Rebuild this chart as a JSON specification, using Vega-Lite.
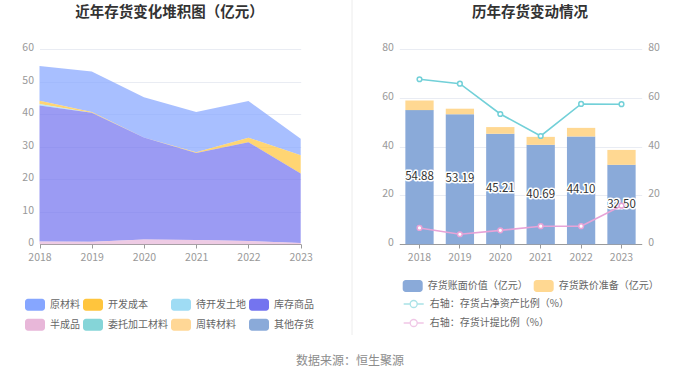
{
  "$schema": "https://vega.github.io/schema/vega-lite/v6.json",
  "width": 700,
  "height": 378,
  "autosize": "none",
  "padding": 0,
  "background": "white",
  "config": {
    "font": "Noto Sans CJK SC",
    "view": {"stroke": null},
    "axis": {"labelFont": "Noto Sans CJK SC", "labelColor": "#999999", "labelFontSize": 10.5, "titleFont": "Noto Sans CJK SC"},
    "legend": {"labelFont": "Noto Sans CJK SC", "labelColor": "#666666", "labelFontSize": 10}
  },
  "title": {"text": "数据来源：恒生聚源", "orient": "bottom", "anchor": "middle", "frame": "group", "offset": -22, "fontSize": 12, "fontWeight": "normal", "color": "#8c8c8c"},
  "datasets": {
    "areas": [
      {"year": "2018", "type": "原材料", "value": 10.68},
      {"year": "2019", "type": "原材料", "value": 12.49},
      {"year": "2020", "type": "原材料", "value": 12.31},
      {"year": "2021", "type": "原材料", "value": 12.39},
      {"year": "2022", "type": "原材料", "value": 11.30},
      {"year": "2023", "type": "原材料", "value": 5.10},
      {"year": "2018", "type": "开发成本", "value": 1.0},
      {"year": "2019", "type": "开发成本", "value": 0.2},
      {"year": "2020", "type": "开发成本", "value": 0},
      {"year": "2021", "type": "开发成本", "value": 0.2},
      {"year": "2022", "type": "开发成本", "value": 1.4},
      {"year": "2023", "type": "开发成本", "value": 5.6},
      {"year": "2018", "type": "待开发土地", "value": 0.5},
      {"year": "2019", "type": "待开发土地", "value": 0},
      {"year": "2020", "type": "待开发土地", "value": 0},
      {"year": "2021", "type": "待开发土地", "value": 0},
      {"year": "2022", "type": "待开发土地", "value": 0},
      {"year": "2023", "type": "待开发土地", "value": 0},
      {"year": "2018", "type": "库存商品", "value": 41.8},
      {"year": "2019", "type": "库存商品", "value": 39.7},
      {"year": "2020", "type": "库存商品", "value": 31.4},
      {"year": "2021", "type": "库存商品", "value": 26.8},
      {"year": "2022", "type": "库存商品", "value": 30.4},
      {"year": "2023", "type": "库存商品", "value": 21.4},
      {"year": "2018", "type": "半成品", "value": 0.9},
      {"year": "2019", "type": "半成品", "value": 0.8},
      {"year": "2020", "type": "半成品", "value": 1.5},
      {"year": "2021", "type": "半成品", "value": 1.3},
      {"year": "2022", "type": "半成品", "value": 1.0},
      {"year": "2023", "type": "半成品", "value": 0.4}
    ],
    "bars": [
      {"year": "2018", "series": "存货账面价值（亿元）", "value": 54.88},
      {"year": "2019", "series": "存货账面价值（亿元）", "value": 53.19},
      {"year": "2020", "series": "存货账面价值（亿元）", "value": 45.21},
      {"year": "2021", "series": "存货账面价值（亿元）", "value": 40.69},
      {"year": "2022", "series": "存货账面价值（亿元）", "value": 44.10},
      {"year": "2023", "series": "存货账面价值（亿元）", "value": 32.50},
      {"year": "2018", "series": "存货跌价准备（亿元）", "value": 3.94},
      {"year": "2019", "series": "存货跌价准备（亿元）", "value": 2.27},
      {"year": "2020", "series": "存货跌价准备（亿元）", "value": 2.73},
      {"year": "2021", "series": "存货跌价准备（亿元）", "value": 3.25},
      {"year": "2022", "series": "存货跌价准备（亿元）", "value": 3.52},
      {"year": "2023", "series": "存货跌价准备（亿元）", "value": 6.10}
    ],
    "lines": [
      {"year": "2018", "series": "右轴：存货占净资产比例（%）", "value": 67.5},
      {"year": "2019", "series": "右轴：存货占净资产比例（%）", "value": 65.7},
      {"year": "2020", "series": "右轴：存货占净资产比例（%）", "value": 53.3},
      {"year": "2021", "series": "右轴：存货占净资产比例（%）", "value": 44.3},
      {"year": "2022", "series": "右轴：存货占净资产比例（%）", "value": 57.4},
      {"year": "2023", "series": "右轴：存货占净资产比例（%）", "value": 57.3},
      {"year": "2018", "series": "右轴：存货计提比例（%）", "value": 6.7},
      {"year": "2019", "series": "右轴：存货计提比例（%）", "value": 4.1},
      {"year": "2020", "series": "右轴：存货计提比例（%）", "value": 5.7},
      {"year": "2021", "series": "右轴：存货计提比例（%）", "value": 7.4},
      {"year": "2022", "series": "右轴：存货计提比例（%）", "value": 7.4},
      {"year": "2023", "series": "右轴：存货计提比例（%）", "value": 15.8}
    ]
  },
  "layer": [
    {
      "data": {"name": "areas"},
      "transform": [{"window": [{"op": "row_number", "as": "rank"}], "groupby": ["year"]}],
      "mark": {"type": "area", "opacity": 0.72, "interpolate": "linear"},
      "encoding": {
        "x": {
          "field": "year", "type": "ordinal",
          "scale": {"type": "point", "range": [39.5, 300.7], "padding": 0},
          "axis": {"orient": "bottom", "offset": -134, "labelAngle": 0, "tickSize": 4, "labelPadding": 4, "domainColor": "#9a9a9a", "tickColor": "#9a9a9a", "grid": false,
            "title": "近年存货变化堆积图（亿元）", "titleX": 169, "titleY": -232, "titleAlign": "center", "titleBaseline": "middle", "titleFontSize": 14.5, "titleFontWeight": "bold", "titleColor": "#333333"}
        },
        "y": {
          "field": "value", "type": "quantitative", "stack": "zero",
          "scale": {"domain": [0, 60], "range": [244.3, 49.3], "nice": false},
          "axis": {"orient": "left", "offset": -39.5, "values": [0, 10, 20, 30, 40, 50, 60], "title": null, "domain": false, "ticks": false, "labelPadding": 6, "labelOffset": -1.5, "grid": true, "gridColor": "#e9ecf3"}
        },
        "order": {"field": "rank", "type": "quantitative", "sort": "descending"},
        "color": {
          "field": "type", "type": "nominal",
          "scale": {"domain": ["原材料", "开发成本", "待开发土地", "库存商品", "半成品", "委托加工材料", "周转材料", "其他存货"],
                    "range": ["#86a6ff", "#ffc53d", "#9fdcf4", "#7474ef", "#e8b7d9", "#85d5d8", "#ffd796", "#8aaad9"]},
          "legend": {"orient": "none", "legendX": 25, "legendY": 294.7, "direction": "horizontal", "columns": 4, "title": null,
                     "symbolType": "M-0.7,-0.6H0.7A0.3,0.3,0,0,1,1,-0.3V0.3A0.3,0.3,0,0,1,0.7,0.6H-0.7A0.3,0.3,0,0,1,-1,0.3V-0.3A0.3,0.3,0,0,1,-0.7,-0.6Z",
                     "symbolSize": 400, "symbolStrokeWidth": 0, "symbolOpacity": 1, "columnPadding": 3, "rowPadding": 4, "labelOffset": 5}
        }
      }
    },
    {
      "data": {"name": "bars"},
      "transform": [{"window": [{"op": "row_number", "as": "rank"}], "groupby": ["year"]}],
      "mark": {"type": "bar"},
      "encoding": {
        "x": {
          "field": "year", "type": "ordinal",
          "scale": {"type": "band", "range": [399.3, 641.7], "paddingInner": 0.3, "paddingOuter": 0.15},
          "axis": {"orient": "bottom", "offset": -134, "labelAngle": 0, "tickSize": 4, "labelPadding": 4, "domainColor": "#9a9a9a", "tickColor": "#9a9a9a", "grid": false,
            "title": "历年存货变动情况", "titleX": 529.5, "titleY": -232, "titleAlign": "center", "titleBaseline": "middle", "titleFontSize": 14.5, "titleFontWeight": "bold", "titleColor": "#333333"}
        },
        "y": {
          "field": "value", "type": "quantitative", "stack": "zero",
          "scale": {"domain": [0, 80], "range": [244.3, 48.7], "nice": false},
          "axis": {"orient": "left", "offset": -399.3, "values": [0, 20, 40, 60, 80], "title": null, "domain": false, "ticks": false, "labelPadding": 6, "labelOffset": -1.5, "grid": true, "gridColor": "#e9ecf3"}
        },
        "order": {"field": "rank", "type": "quantitative", "sort": "ascending"},
        "color": {
          "field": "series", "type": "nominal",
          "scale": {"domain": ["存货账面价值（亿元）", "存货跌价准备（亿元）"], "range": ["#8aaad9", "#ffd892"]},
          "legend": {"orient": "none", "legendX": 402.7, "legendY": 276, "direction": "horizontal", "columns": 2, "title": null,
                     "symbolType": "M-0.7,-0.6H0.7A0.3,0.3,0,0,1,1,-0.3V0.3A0.3,0.3,0,0,1,0.7,0.6H-0.7A0.3,0.3,0,0,1,-1,0.3V-0.3A0.3,0.3,0,0,1,-0.7,-0.6Z",
                     "symbolSize": 400, "symbolStrokeWidth": 0, "symbolOpacity": 1, "columnPadding": 6, "labelOffset": 5}
        }
      }
    },
    {
      "data": {"name": "bars"},
      "transform": [{"filter": "datum.series === '存货账面价值（亿元）'"}],
      "encoding": {
        "x": {"field": "year", "type": "ordinal", "scale": {"type": "band", "range": [399.3, 641.7], "paddingInner": 0.3, "paddingOuter": 0.15}, "axis": null},
        "y": {"field": "value", "type": "quantitative", "scale": {"domain": [0, 80], "range": [244.3, 146.5], "nice": false}, "axis": null},
        "text": {"field": "value", "type": "quantitative", "format": ".2f"}
      },
      "layer": [
        {"mark": {"type": "text", "fontSize": 11.5, "stroke": "white", "strokeWidth": 3, "strokeJoin": "round", "fill": "white", "baseline": "middle"}},
        {"mark": {"type": "text", "fontSize": 11.5, "fill": "#333333", "baseline": "middle"}}
      ]
    },
    {
      "data": {"name": "lines"},
      "encoding": {
        "x": {"field": "year", "type": "ordinal", "scale": {"type": "band", "range": [399.3, 641.7], "paddingInner": 0.3, "paddingOuter": 0.15}, "axis": null},
        "y": {
          "field": "value", "type": "quantitative",
          "scale": {"domain": [0, 80], "range": [244.3, 48.7], "nice": false},
          "axis": {"orient": "right", "offset": -58.3, "values": [0, 20, 40, 60, 80], "title": null, "domain": false, "ticks": false, "labelPadding": 6, "labelOffset": -1.5, "grid": false}
        },
        "color": {
          "field": "series", "type": "nominal",
          "scale": {"domain": ["右轴：存货占净资产比例（%）", "右轴：存货计提比例（%）"], "range": ["#72d0d8", "#e7a3d7"]},
          "legend": {"orient": "none", "legendX": 402.7, "legendY": 293, "direction": "vertical", "columns": 1, "title": null,
                     "symbolType": "M-1,0H-0.35M0.35,0H1M0.35,0A0.35,0.35,0,1,1,-0.35,0A0.35,0.35,0,1,1,0.35,0Z",
                     "symbolSize": 400, "symbolStrokeWidth": 1.3, "symbolFillColor": "white", "symbolOpacity": 0.6, "rowPadding": 1, "labelOffset": 5}
        }
      },
      "layer": [
        {"mark": {"type": "line", "strokeWidth": 1.6}},
        {"mark": {"type": "point", "filled": false, "fill": "white", "size": 22, "strokeWidth": 1.5, "opacity": 1}}
      ]
    },
    {
      "data": {"values": [{"divider": 1}]},
      "mark": {"type": "rule", "color": "#ececec", "strokeWidth": 1},
      "encoding": {
        "x": {"datum": 1, "type": "quantitative", "scale": {"domain": [0, 2], "range": [0, 704]}, "axis": null},
        "y": {"datum": 0, "type": "quantitative", "scale": {"domain": [0, 1], "range": [335, 0]}, "axis": null},
        "y2": {"datum": 1}
      }
    }
  ],
  "resolve": {
    "scale": {"x": "independent", "y": "independent", "color": "independent"},
    "axis": {"x": "independent", "y": "independent"},
    "legend": {"color": "independent"}
  }
}
